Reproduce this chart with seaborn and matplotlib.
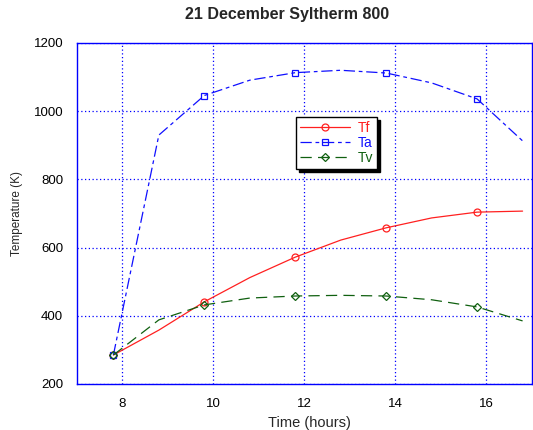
import matplotlib
matplotlib.use("Agg")
import matplotlib.pyplot as plt
import seaborn as sns
import pandas as pd

hours = [7.8, 8.8, 9.8, 10.8, 11.8, 12.8, 13.8, 14.8, 15.8, 16.8]
tf = [285, 358, 441, 512, 572, 622, 658, 687, 704, 707]
ta = [285, 930, 1046, 1091, 1113, 1120, 1112, 1083, 1036, 913]
tv = [285, 388, 432, 452, 458, 460, 458, 447, 426, 385]
xticks = [8, 10, 12, 14, 16]
yticks = [200, 400, 600, 800, 1000, 1200]

sns.set_style("white")
plt.rcParams['font.family'] = ['Liberation Sans', 'DejaVu Sans']

fig = plt.figure(figsize=(5.33, 4.30), dpi=100)
ax = fig.add_axes([0.1445, 0.107, 0.853, 0.793])

series = [
    ("Tf", tf, "#ff2020", "-", "o"),
    ("Ta", ta, "#1010ff", (0, (9, 3, 3, 3)), "s"),
    ("Tv", tv, "#106010", (0, (9, 5)), "D"),
]
for name, vals, col, ls, mk in series:
    df = pd.DataFrame({"x": hours, "y": vals})
    sns.lineplot(data=df, x="x", y="y", ax=ax, color=col, linestyle=ls,
                 linewidth=0.9, marker=mk, markevery=[0, 2, 4, 6, 8],
                 markersize=5 if mk != "D" else 4, markerfacecolor="none",
                 markeredgecolor=col, markeredgewidth=0.9, label=name)

ax.set_xlim(7, 17)
ax.set_ylim(200, 1200)
ax.set_xticks(xticks)
ax.set_yticks(yticks)
ax.grid(True, color="#0000ff", linestyle=(0, (1, 2)), linewidth=0.9)
for s in ax.spines.values():
    s.set_color("#0000ff")
    s.set_linewidth(1.0)
ax.tick_params(axis="y", labelsize=9.5, labelcolor="black", color="#0000ff",
               length=3, direction="out", pad=7)
ax.tick_params(axis="x", labelsize=9.5, labelcolor="black", color="#0000ff",
               length=0, pad=10)
ax.set_xlabel("Time (hours)", fontsize=10.5)
ax.set_ylabel("Temperature (K)", fontsize=8.5)
ax.xaxis.set_label_coords((310 - 77) / 455, -(423 - 384) / 341)
ax.yaxis.set_label_coords(-(77 - 17) / 455, (384 - 214) / 341)
ax.xaxis.label.set_va("center")
ax.yaxis.label.set_va("center")
fig.text(287 / 533, 1 - 15 / 430, "21 December Syltherm 800", fontsize=11.5,
         fontweight="bold", ha="center", va="center")

leg = ax.legend(loc="upper left", bbox_to_anchor=(0.467, 0.803), frameon=True,
                fancybox=False, shadow={"color": "black", "alpha": 1.0, "ox": 2.2, "oy": -2.2},
                edgecolor="black", fontsize=10, handlelength=3.6,
                borderpad=0.3, labelspacing=0.05, handletextpad=0.5)
leg.get_frame().set_linewidth(1.0)
for t, (name, vals, col, ls, mk) in zip(leg.get_texts(), series):
    t.set_color(col)

fig.savefig("out.png", dpi=100)
